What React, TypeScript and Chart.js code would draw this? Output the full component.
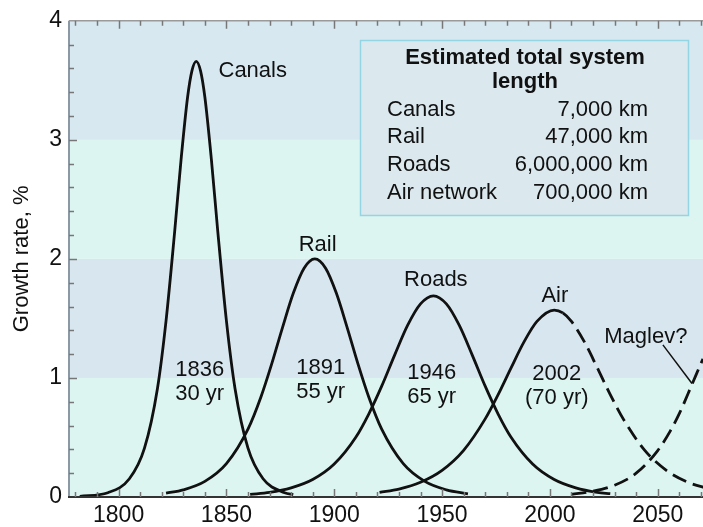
import React, { useEffect, useRef } from "react";
import { Chart, registerables } from "chart.js";

Chart.register(...registerables);

// ---- data ----
const canalsYears = [1782, 1795, 1805, 1812, 1818, 1822, 1826, 1829, 1832, 1834, 1836, 1838, 1840, 1843, 1846, 1850, 1854, 1860, 1867, 1877, 1881];
const canalsRate = [0.005, 0.036, 0.153, 0.41, 0.91, 1.48, 2.23, 2.84, 3.36, 3.58, 3.66, 3.58, 3.36, 2.84, 2.23, 1.48, 0.91, 0.41, 0.153, 0.036, 0.02];

const railYears = [1822, 1830, 1840, 1850, 1860, 1866, 1871, 1876, 1881, 1886, 1891, 1896, 1901, 1906, 1911, 1916, 1922, 1932, 1942, 1952, 1962];
const railRate = [0.032, 0.06, 0.131, 0.28, 0.57, 0.84, 1.118, 1.423, 1.711, 1.922, 2.0, 1.922, 1.711, 1.423, 1.118, 0.84, 0.57, 0.28, 0.131, 0.06, 0.027];

const roadsYears = [1861, 1870, 1880, 1890, 1900, 1910, 1916, 1922, 1928, 1934, 1940, 1946, 1952, 1958, 1964, 1970, 1976, 1982, 1992, 2002, 2012, 2022, 2028];
const roadsRate = [0.022, 0.039, 0.077, 0.147, 0.277, 0.502, 0.697, 0.931, 1.192, 1.441, 1.622, 1.69, 1.622, 1.441, 1.192, 0.931, 0.697, 0.502, 0.277, 0.147, 0.077, 0.039, 0.028];

const airYears = [1921, 1930, 1940, 1950, 1960, 1970, 1976, 1982, 1988, 1994, 2002, 2006, 2010, 2016, 2022, 2028, 2034, 2044, 2054, 2064, 2074];
const airRate = [0.039, 0.067, 0.124, 0.224, 0.392, 0.656, 0.86, 1.085, 1.303, 1.475, 1.57, 1.546, 1.475, 1.303, 1.085, 0.86, 0.656, 0.392, 0.224, 0.124, 0.068];
const airForecastFrom = 2006;

const maglevYears = [2010, 2020, 2030, 2040, 2050, 2056, 2060, 2066, 2071, 2075];
const maglevRate = [0.023, 0.048, 0.099, 0.2, 0.39, 0.56, 0.7, 0.95, 1.16, 1.31];

const xTickLabels = [1800, 1850, 1900, 1950, 2000, 2050];
const yTickLabels = [0, 1, 2, 3, 4];
const xRange = [1777, 2071];

const curveNames = ["Canals", "Rail", "Roads", "Air", "Maglev?"];
const curveNameYears = [1862.2, 1892.3, 1947.1, 2002.3, 2044.5];
const curveNameValues = [3.58, 2.116, 1.826, 1.685, 1.344];

const peakYearLabels = ["1836", "1891", "1946", "2002"];
const durationLabels = ["30 yr", "55 yr", "65 yr", "(70 yr)"];
const peakNoteYears = [1837.6, 1893.7, 1945.2, 2003.2];
const peakNoteValues = [1.07, 1.087, 1.046, 1.035];

const tableTitle = ["Estimated total system", "length"];
const tableNames = ["Canals", "Rail", "Roads", "Air network"];
const tableLengths = ["7,000 km", "47,000 km", "6,000,000 km", "700,000 km"];

const FONT = '"Liberation Sans", Arial, sans-serif';
const INK = "#111111";

const toPoints = (xs: number[], ys: number[]) => xs.map((x, i) => ({ x, y: ys[i] }));

const bandsPlugin = {
  id: "bands",
  beforeDatasetsDraw(chart: any) {
    const { ctx, chartArea: a, scales } = chart;
    const y = scales.y;
    const colors = ["#dcf5f1", "#d8e7ef", "#dcf5f1", "#d7e8f0"];
    ctx.save();
    for (let i = 0; i < yTickLabels.length - 1; i++) {
      const top = y.getPixelForValue(yTickLabels[i + 1]);
      const bot = y.getPixelForValue(yTickLabels[i]);
      ctx.fillStyle = colors[i % colors.length];
      ctx.fillRect(a.left, top, a.right - a.left, bot - top);
    }
    ctx.restore();
  },
};

const decorPlugin = {
  id: "decor",
  afterDraw(chart: any) {
    const { ctx, chartArea: a, scales } = chart;
    const xs = scales.x;
    const ys = scales.y;
    ctx.save();

    // axis lines
    ctx.lineWidth = 2;
    ctx.strokeStyle = "#8c98a4";
    ctx.beginPath();
    ctx.moveTo(a.left, a.top);
    ctx.lineTo(a.left, a.bottom);
    ctx.stroke();
    ctx.strokeStyle = "#9a9a9a";
    ctx.lineWidth = 1.5;
    ctx.beginPath();
    ctx.moveTo(a.left, a.top);
    ctx.lineTo(a.right, a.top);
    ctx.stroke();
    ctx.strokeStyle = "#333333";
    ctx.lineWidth = 2;
    ctx.beginPath();
    ctx.moveTo(a.left - 1, a.bottom);
    ctx.lineTo(a.right, a.bottom);
    ctx.stroke();

    // tick marks (inward)
    ctx.strokeStyle = "#777777";
    ctx.lineWidth = 1.5;
    for (let yr = 1780; yr <= xRange[1]; yr += 10) {
      const px = Math.round(xs.getPixelForValue(yr)) + 0.5;
      const len = yr % 50 === 0 ? 8 : 5;
      ctx.beginPath();
      ctx.moveTo(px, a.bottom);
      ctx.lineTo(px, a.bottom - len);
      ctx.moveTo(px, a.top);
      ctx.lineTo(px, a.top + len);
      ctx.stroke();
    }
    for (let k = 1; k < 20; k++) {
      const v = k * 0.2;
      const py = Math.round(ys.getPixelForValue(v)) + 0.5;
      const len = k % 5 === 0 ? 8 : 5;
      ctx.beginPath();
      ctx.moveTo(a.left, py);
      ctx.lineTo(a.left + len, py);
      ctx.stroke();
    }

    // y axis title
    ctx.fillStyle = INK;
    ctx.font = `22px ${FONT}`;
    ctx.textAlign = "center";
    ctx.textBaseline = "middle";
    ctx.save();
    ctx.translate(22, (a.top + a.bottom) / 2);
    ctx.rotate(-Math.PI / 2);
    ctx.fillText("Growth rate, %", 0, 0);
    ctx.restore();

    // curve names
    for (let i = 0; i < curveNames.length; i++) {
      ctx.fillText(curveNames[i], xs.getPixelForValue(curveNameYears[i]), ys.getPixelForValue(curveNameValues[i]));
    }
    // peak year / duration notes
    for (let i = 0; i < peakYearLabels.length; i++) {
      const px = xs.getPixelForValue(peakNoteYears[i]);
      const py = ys.getPixelForValue(peakNoteValues[i]);
      ctx.fillText(peakYearLabels[i], px, py);
      ctx.fillText(durationLabels[i], px, py + 24);
    }

    // Maglev leader line
    ctx.strokeStyle = INK;
    ctx.lineWidth = 1.5;
    ctx.beginPath();
    ctx.moveTo(xs.getPixelForValue(2052.4), ys.getPixelForValue(1.278));
    ctx.lineTo(xs.getPixelForValue(2065.9), ys.getPixelForValue(0.954));
    ctx.stroke();

    // table box
    const bx = 360, by = 40, bw = 328, bh = 175;
    ctx.fillStyle = "#dbe8ee";
    ctx.fillRect(bx, by, bw, bh);
    ctx.strokeStyle = "#93d5e3";
    ctx.lineWidth = 1.5;
    ctx.strokeRect(bx + 0.5, by + 0.5, bw, bh);
    ctx.fillStyle = INK;
    ctx.font = `bold 22px ${FONT}`;
    ctx.textAlign = "center";
    ctx.fillText(tableTitle[0], 525, 58);
    ctx.fillText(tableTitle[1], 525, 82);
    ctx.font = `22px ${FONT}`;
    const rowY = [110, 137, 165, 193];
    for (let i = 0; i < tableNames.length; i++) {
      ctx.textAlign = "left";
      ctx.fillText(tableNames[i], 387, rowY[i]);
      ctx.textAlign = "right";
      ctx.fillText(tableLengths[i], 648, rowY[i]);
    }
    ctx.restore();
  },
};

export default function App() {
  const ref = useRef<HTMLCanvasElement | null>(null);
  useEffect(() => {
    if (!ref.current) return;
    const line = {
      showLine: true,
      pointRadius: 0,
      borderColor: INK,
      borderWidth: 2.8,
      cubicInterpolationMode: "monotone" as const,
      fill: false,
    };
    const chart = new Chart(ref.current, {
      type: "scatter",
      data: {
        datasets: [
          { ...line, label: "Canals", data: toPoints(canalsYears, canalsRate) },
          { ...line, label: "Rail", data: toPoints(railYears, railRate) },
          { ...line, label: "Roads", data: toPoints(roadsYears, roadsRate) },
          {
            ...line,
            label: "Air",
            data: toPoints(airYears, airRate),
            segment: {
              borderDash: (c: any) => (c.p0.parsed.x >= airForecastFrom ? [15, 7] : undefined),
            },
          },
          { ...line, label: "Maglev?", data: toPoints(maglevYears, maglevRate), borderDash: [15, 7] },
        ],
      },
      options: {
        animation: false,
        responsive: true,
        maintainAspectRatio: false,
        events: [],
        layout: { padding: { top: 15, right: 0, bottom: 0, left: 0 } },
        plugins: { legend: { display: false }, tooltip: { enabled: false } },
        scales: {
          x: {
            type: "linear",
            min: xRange[0],
            max: xRange[1],
            afterBuildTicks: (s: any) => {
              s.ticks = xTickLabels.map((v) => ({ value: v }));
            },
            afterFit: (s: any) => {
              s.height = 30;
            },
            grid: { display: false, drawTicks: false },
            border: { display: false },
            ticks: {
              color: INK,
              padding: 5,
              maxRotation: 0,
              autoSkip: false,
              font: { family: FONT, size: 23 },
              callback: (v: any) => String(v),
            },
          },
          y: {
            type: "linear",
            min: 0,
            max: 4,
            afterBuildTicks: (s: any) => {
              s.ticks = yTickLabels.map((v) => ({ value: v }));
            },
            afterFit: (s: any) => {
              s.width = 69;
            },
            grid: { display: false, drawTicks: false },
            border: { display: false },
            ticks: {
              color: INK,
              padding: 7,
              font: { family: FONT, size: 23 },
              callback: (v: any) => String(v),
            },
          },
        },
      },
      plugins: [bandsPlugin, decorPlugin],
    });
    return () => chart.destroy();
  }, []);
  return (
    <div style={{ position: "fixed", left: 0, top: 0, width: 703, height: 527, background: "#ffffff" }}>
      <canvas ref={ref} />
    </div>
  );
}
